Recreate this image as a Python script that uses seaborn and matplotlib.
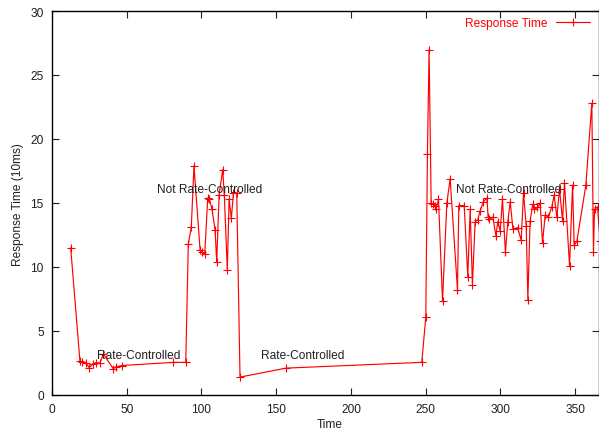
import pandas as pd
import matplotlib
matplotlib.use("Agg")
import matplotlib.pyplot as plt
import seaborn as sns

# dados (tempo, tempo de resposta em 10ms)
tempo = [12.5, 18.7, 20.3, 22.5, 25.0, 27.2, 29.2, 32.1, 34.4, 41.0, 42.8, 46.6,
         81.2, 89.5, 91.2, 93.2, 95.0, 99.1, 100.6, 102.2, 104.2, 105.3, 107.1,
         109.1, 110.2, 111.8, 114.2, 115.3, 117.3, 118.5, 120.0, 121.4, 123.6,
         125.8, 156.6, 247.4, 250.1, 251.2, 252.3, 253.7, 255.0, 256.1, 257.0,
         258.6, 261.3, 264.2, 266.4, 271.3, 272.2, 275.8, 278.2, 279.8, 281.3,
         283.1, 284.9, 286.5, 288.7, 291.0, 291.8, 292.7, 295.0, 297.0, 298.3,
         299.9, 301.4, 303.4, 305.0, 306.6, 308.4, 311.5, 313.9, 315.5, 317.3,
         318.4, 319.9, 321.7, 322.8, 324.8, 326.6, 328.2, 330.0, 332.2, 334.4,
         336.0, 337.8, 339.6, 341.6, 342.9, 346.3, 348.3, 349.4, 351.2, 357.2,
         361.2, 362.3, 363.0, 365.0, 366.8]
resposta = [11.5, 2.63, 2.6, 2.52, 2.13, 2.42, 2.52, 2.5, 3.2, 2.05, 2.2, 2.3,
            2.55, 2.55, 11.8, 13.1, 17.9, 11.3, 11.15, 11.0, 15.4, 15.3, 14.5,
            12.9, 10.4, 15.6, 17.6, 15.6, 9.8, 15.3, 13.8, 15.8, 15.8,
            1.4, 2.1, 2.55, 6.07, 18.8, 26.95, 15.0, 14.95, 14.8, 14.5,
            15.3, 7.37, 15.0, 16.9, 8.23, 14.8, 14.8, 9.25, 14.5, 8.6,
            13.5, 13.7, 14.4, 15.1, 15.4, 13.9, 13.75, 13.9, 12.45, 13.55,
            12.8, 15.3, 11.15, 13.55, 15.1, 12.97, 13.07, 12.1, 15.8, 13.2,
            7.45, 13.6, 14.9, 14.5, 14.65, 15.0, 11.9, 14.05, 13.9, 14.7,
            15.6, 13.9, 16.1, 13.6, 16.6, 10.1, 16.4, 11.7, 12.0, 16.4,
            22.8, 11.15, 14.5, 14.7, 12.0]

# rotulos das fases
rotulos = ["Rate-Controlled", "Rate-Controlled", "Not Rate-Controlled", "Not Rate-Controlled"]
rotulos_x = [30, 140, 70, 270]
rotulos_y = [3.1, 3.1, 16.1, 16.1]

df = pd.DataFrame({"Time": tempo, "Response Time": resposta})

sns.set_theme(style="ticks")
plt.rcParams["font.family"] = ["Liberation Sans", "DejaVu Sans"]

fig = plt.figure(figsize=(5.99, 4.31), dpi=100)
ax = fig.add_axes([52 / 599, 1 - 396 / 431, 1 - 52 / 599, (396 - 12) / 431])

sns.lineplot(data=df, x="Time", y="Response Time", ax=ax, color="red",
             marker="+", markersize=5.5, markeredgewidth=0.8, markeredgecolor="red",
             linewidth=0.85, estimator=None, sort=False, label="Response Time")

for txt, lx, ly in zip(rotulos, rotulos_x, rotulos_y):
    ax.text(lx, ly, txt, fontsize=8.6, color="#202020", ha="left", va="center")

ax.set_xlim(0, 366)
ax.set_ylim(0, 30)
ax.set_xticks(range(0, 351, 50))
ax.set_yticks(range(0, 31, 5))
ax.tick_params(direction="in", length=5, width=0.8, top=True, right=True,
               labelsize=8.6, colors="#202020", pad=6)
for s in ax.spines.values():
    s.set_linewidth(1.0)
    s.set_color("black")
ax.set_xlabel("Time", fontsize=8.6, color="#202020")
ax.set_ylabel("Response Time (10ms)", fontsize=8.6, color="#202020")
ax.xaxis.set_label_coords((330 - 52) / 547, -(425 - 396) / 384)
ax.yaxis.set_label_coords(-(52 - 18) / 547, (396 - 205) / 384)
ax.xaxis.label.set_va("center")
ax.yaxis.label.set_va("center")

leg = ax.legend(loc="upper right", frameon=False, markerfirst=False,
                fontsize=8.6, labelcolor="red", handlelength=2.9,
                handletextpad=0.7, borderaxespad=0.0,
                bbox_to_anchor=(0.993, 0.996))

plt.savefig("out.png", dpi=100)
plt.close()
